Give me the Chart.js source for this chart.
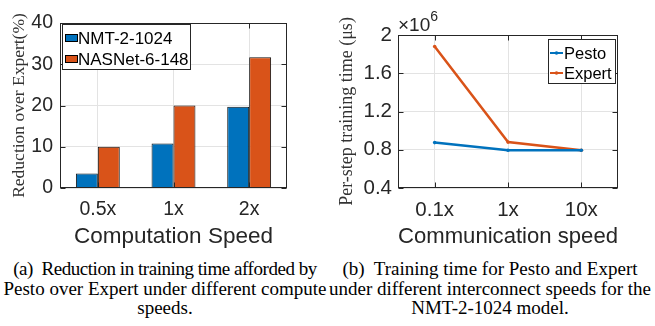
<!DOCTYPE html>
<html>
<head>
<meta charset="utf-8">
<script src="https://cdn.jsdelivr.net/npm/chart.js@4.4.0/dist/chart.umd.min.js"></script>
<style>
  body { margin: 0; background: #fff; width: 655px; height: 326px; overflow: hidden; position: relative; }
  canvas { position: absolute; top: 0; }
  #c1 { left: 0; }
  #c2 { left: 325px; }
  .cap { position: absolute; top: 259px; width: 330px; text-align: center; white-space: nowrap;
         font-family: "Liberation Serif", serif; font-size: 19px; line-height: 19.5px; color: #000; }
  .tight { letter-spacing: -0.45px; }
</style>
</head>
<body>
<canvas id="c1" width="325" height="252"></canvas>
<canvas id="c2" width="330" height="252"></canvas>
<div class="cap" style="left:0"><span class="tight">(a)&nbsp; Reduction in training time afforded by</span><br>Pesto over Expert under different compute<br>speeds.</div>
<div class="cap" style="left:325px">(b)&nbsp; Training time for Pesto and Expert<br>under different interconnect speeds for the<br>NMT-2-1024 model.</div>
<script>
// left chart: reduction (%) per computation speed
var speedLabels = ['0.5x', '1x', '2x'];
var nmtReduction = [3.5, 10.8, 19.7];
var nasnetReduction = [10.0, 20.0, 31.7];

// right chart: per-step training time (us) per communication speed
var commLabels = ['0.1x', '1x', '10x'];
var pestoTime = [875000, 795000, 795000];
var expertTime = [1880000, 880000, 795000];

var blue = '#0072BD', orange = '#D95319';
var axisColor = '#262626', gridColor = '#e3e3e3';
var sans = '"Liberation Sans", Arial, sans-serif';
var serif = '"Liberation Serif", serif';

// box around the plot area and inward tick marks, like matlab
var matlabBox = {
    id: 'matlabBox',
    afterDatasetsDraw: function(chart) {
        var ctx = chart.ctx, a = chart.chartArea;
        var xs = chart.scales.x, ys = chart.scales.y;
        var l = Math.round(a.left) + 0.5, r = Math.round(a.right) - 0.5;
        var t = Math.round(a.top) + 0.5, b = Math.round(a.bottom) - 0.5;
        ctx.save();
        ctx.strokeStyle = axisColor;
        ctx.lineWidth = 1;
        ctx.beginPath();
        xs.ticks.forEach(function(tk, i) {
            var px = Math.round(xs.getPixelForTick(i)) + 0.5;
            ctx.moveTo(px, b); ctx.lineTo(px, b - 5);
            ctx.moveTo(px, t); ctx.lineTo(px, t + 5);
        });
        ys.ticks.forEach(function(tk, i) {
            var py = Math.round(ys.getPixelForTick(i)) + 0.5;
            ctx.moveTo(l, py); ctx.lineTo(l + 5, py);
            ctx.moveTo(r, py); ctx.lineTo(r - 5, py);
        });
        ctx.stroke();
        ctx.strokeRect(l, t, r - l, b - t);
        ctx.restore();
    }
};

// legend with a border, drawn inside the plot
var boxLegend = {
    id: 'boxLegend',
    afterDraw: function(chart, args, o) {
        var ctx = chart.ctx;
        ctx.save();
        ctx.fillStyle = '#fff';
        ctx.fillRect(o.x, o.y, o.w, o.h);
        ctx.strokeStyle = axisColor;
        ctx.lineWidth = 1;
        ctx.strokeRect(o.x + 0.5, o.y + 0.5, o.w, o.h);
        ctx.font = o.size + 'px ' + sans;
        ctx.textBaseline = 'middle';
        chart.data.datasets.forEach(function(ds, i) {
            var cy = Math.round(o.y + o.first + i * o.row);
            if (o.kind === 'bar') {
                ctx.fillStyle = ds.backgroundColor;
                ctx.fillRect(o.x + 3, cy - 4, 12, 7);
                ctx.strokeStyle = '#000';
                ctx.lineWidth = 1;
                ctx.strokeRect(o.x + 3.5, cy - 3.5, 12, 7);
            } else {
                ctx.strokeStyle = ds.borderColor;
                ctx.lineWidth = 2;
                ctx.beginPath();
                ctx.moveTo(o.x + 2, cy); ctx.lineTo(o.x + 15, cy);
                ctx.stroke();
                ctx.fillStyle = ds.borderColor;
                ctx.beginPath();
                ctx.arc(o.x + 8.5, cy, 1.8, 0, 2 * Math.PI);
                ctx.fill();
            }
            ctx.fillStyle = '#000';
            ctx.fillText(ds.label, o.x + o.textX, cy + 1);
        });
        ctx.restore();
    }
};

// the x10^6 exponent label above the y axis
var exponentLabel = {
    id: 'exponentLabel',
    afterDraw: function(chart) {
        var ctx = chart.ctx, a = chart.chartArea;
        ctx.save();
        ctx.fillStyle = axisColor;
        ctx.textBaseline = 'middle';
        ctx.font = '19px ' + sans;
        ctx.fillText('\u00d710', a.left, 26);
        var w = ctx.measureText('\u00d710').width;
        ctx.font = '14px ' + sans;
        ctx.fillText('6', a.left + w, 17);
        ctx.restore();
    }
};

new Chart(document.getElementById('c1'), {
    type: 'bar',
    data: {
        labels: speedLabels,
        datasets: [{
            label: 'NMT-2-1024',
            data: nmtReduction,
            backgroundColor: blue,
            borderColor: '#111',
            borderWidth: 1
        }, {
            label: 'NASNet-6-148',
            data: nasnetReduction,
            backgroundColor: orange,
            borderColor: '#111',
            borderWidth: 1
        }]
    },
    options: {
        responsive: false,
        animation: false,
        datasets: { bar: { categoryPercentage: 0.58, barPercentage: 1 } },
        layout: { padding: { left: 0, top: 23, right: 38, bottom: 0 } },
        plugins: {
            legend: { display: false },
            tooltip: { enabled: false },
            boxLegend: { kind: 'bar', x: 62, y: 24, w: 128, h: 45, first: 13.5, row: 21.5, textX: 16, size: 17 }
        },
        scales: {
            x: {
                grid: { color: gridColor, offset: false, drawTicks: false },
                border: { display: false },
                ticks: { color: axisColor, font: { family: sans, size: 19.5 }, padding: 10 },
                title: { display: true, text: 'Computation Speed', color: axisColor,
                         font: { family: sans, size: 22.5 }, padding: { top: 0, bottom: 1.5 } },
                afterFit: function(s) { s.height = 64; }
            },
            y: {
                min: 0,
                max: 40,
                ticks: { stepSize: 10, color: axisColor, font: { family: sans, size: 19.5 }, padding: 7 },
                grid: { color: gridColor, drawTicks: false },
                border: { display: false },
                title: { display: true, text: 'Reduction over Expert(%)', color: '#333',
                         font: { family: serif, size: 17.5 }, padding: { top: 8.5, bottom: 0 } },
                afterFit: function(s) { s.width = 60; }
            }
        }
    },
    plugins: [matlabBox, boxLegend]
});

new Chart(document.getElementById('c2'), {
    type: 'line',
    data: {
        labels: commLabels,
        datasets: [{
            label: 'Pesto',
            data: pestoTime,
            borderColor: blue,
            backgroundColor: blue,
            borderWidth: 2.5,
            pointRadius: 1.8,
            pointBorderWidth: 0,
            tension: 0
        }, {
            label: 'Expert',
            data: expertTime,
            borderColor: orange,
            backgroundColor: orange,
            borderWidth: 2.5,
            pointRadius: 1.8,
            pointBorderWidth: 0,
            tension: 0
        }]
    },
    options: {
        responsive: false,
        animation: false,
        layout: { padding: { left: 0, top: 35, right: 37, bottom: 0 } },
        plugins: {
            legend: { display: false },
            tooltip: { enabled: false },
            boxLegend: { kind: 'line', x: 223, y: 39, w: 67, h: 44, first: 13.7, row: 20.6, textX: 16, size: 16.5 }
        },
        scales: {
            x: {
                offset: true,
                grid: { color: gridColor, offset: false, drawTicks: false },
                border: { display: false },
                ticks: { color: axisColor, font: { family: sans, size: 20.5 }, padding: 10 },
                title: { display: true, text: 'Communication speed', color: axisColor,
                         font: { family: sans, size: 22.5 }, padding: { top: 0, bottom: 1.5 } },
                afterFit: function(s) { s.height = 64; }
            },
            y: {
                min: 400000,
                max: 2000000,
                ticks: {
                    stepSize: 400000,
                    color: axisColor,
                    font: { family: sans, size: 20.5 },
                    padding: 6,
                    callback: function(v) { return String(Math.round(v / 1e5) / 10); }
                },
                grid: { color: gridColor, drawTicks: false },
                border: { display: false },
                title: { display: true, text: 'Per-step training time (\u03bcs)', color: '#333',
                         font: { family: serif, size: 18 }, padding: { top: 11, bottom: 0 } },
                afterFit: function(s) { s.width = 73; }
            }
        }
    },
    plugins: [matlabBox, boxLegend, exponentLabel]
});
</script>
</body>
</html>
